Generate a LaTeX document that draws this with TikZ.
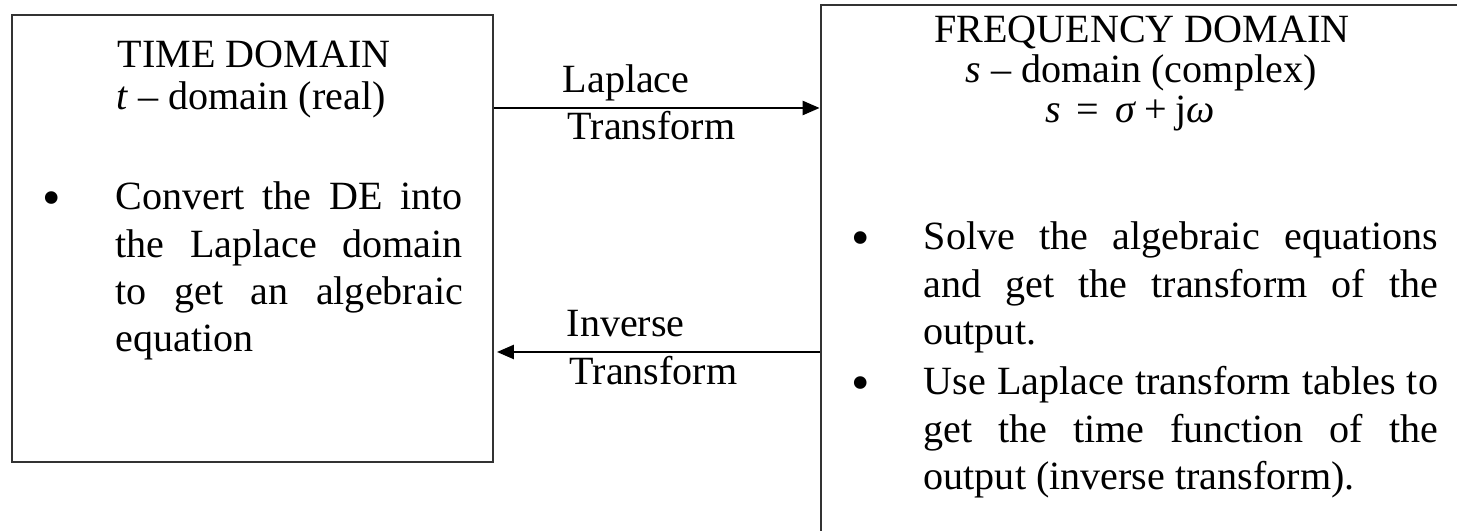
\documentclass[tikz,border=0pt]{standalone}
\usepackage{fontspec}
\setmainfont{Liberation Serif}
\usetikzlibrary{arrows.meta}
\tikzset{
  dombox/.style={draw=black!80, line width=0.7pt, inner sep=0pt},
  txt/.style={inner sep=0pt, font=\fontsize{11.4}{13.4}\selectfont},
  dot/.style={inner sep=0pt, anchor=base, font=\fontsize{15}{15}\selectfont},
  para/.style={txt, anchor=base west, align=justify},
  arr/.style={line width=0.6pt, -{Triangle[length=4.8pt,width=4pt]}}
}

\begin{document}
\begin{tikzpicture}[x=0.01cm, y=-0.01cm]
	%%%%% START %%%%%
	\useasboundingbox (0,0) rectangle (1457,531);
	\clip (0,0) rectangle (1457,531);
	
	% the two domains
	\node[dombox, minimum width=4.81cm, minimum height=4.47cm] (timebox) at (252.5,238.5) {};
	\node[dombox, minimum width=6.42cm, minimum height=5.75cm] (freqbox) at (1142,292.5) {};
	
	% time domain
	\node[txt, anchor=base] (tname) at (254,68) {TIME DOMAIN};
	\node[txt, anchor=base] (tsub) at (251,110) {\textit{t} – domain (real)};
	\node[dot] (tbul) at (52,216) {•};
	\node[para, text width=3.47cm] (tpar) at (115,210) {Convert the DE into\linebreak the Laplace domain\linebreak to get an algebraic\linebreak equation};
	
	% frequency domain
	\node[txt, anchor=base] (fname) at (1142,43) {FREQUENCY DOMAIN};
	\node[txt, anchor=base] (fsub) at (1141,83) {\textit{s} – domain (complex)};
	\node[txt, anchor=base] (feq) at (1130,123) {\textit{s}\hspace{0.4em}=\hspace{0.4em}\textit{σ}\hspace{0.2em}+\hspace{0.2em}j\textit{ω}};
	\node[dot] (fbula) at (861,256) {•};
	\node[para, text width=5.14cm] (fpara) at (923,250) {Solve the algebraic equations\linebreak and get the transform of the\linebreak output.};
	\node[dot] (fbulb) at (861,401) {•};
	\node[para, text width=5.14cm] (fparb) at (923,395) {Use Laplace transform tables to\linebreak get the time function of the\linebreak output (inverse transform).};
	
	% transforms
	\coordinate (fwd) at (0,108);
	\coordinate (bwd) at (497,352);
	\draw[arr] (timebox.east |- fwd) -- (freqbox.west |- fwd);
	\draw[arr] (freqbox.west |- bwd) -- (bwd);
	\node[txt, anchor=base west] (lapl) at (562,93) {Laplace};
	\node[txt, anchor=base west] (laplt) at (567,140) {Transform};
	\node[txt, anchor=base west] (inv) at (566,337) {Inverse};
	\node[txt, anchor=base west] (invt) at (569,385) {Transform};
	
	%%%%% END %%%%%
\end{tikzpicture}
\end{document}
